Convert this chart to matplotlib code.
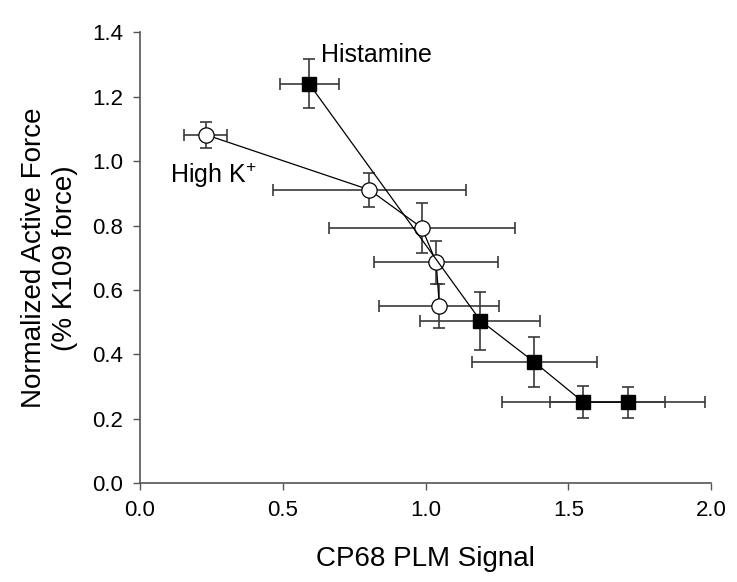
import numpy as np
import matplotlib.pyplot as plt

plt.rcParams['font.family'] = ['Liberation Sans', 'DejaVu Sans']
plt.rcParams['mathtext.fontset'] = 'custom'
plt.rcParams['mathtext.rm'] = 'Liberation Sans'

# Histamine series (filled squares)
hist_x = [0.592, 1.192, 1.381, 1.552, 1.707]
hist_y = [1.240, 0.505, 0.376, 0.252, 0.252]
hist_xerr = [0.103, 0.210, 0.220, 0.285, 0.270]
hist_yerr = [0.076, 0.090, 0.077, 0.050, 0.048]

# High K+ series (open circles)
hk_x = [0.230, 0.803, 0.987, 1.037, 1.048]
hk_y = [1.082, 0.911, 0.793, 0.686, 0.551]
hk_xerr = [0.076, 0.338, 0.326, 0.216, 0.210]
hk_yerr = [0.040, 0.052, 0.077, 0.066, 0.069]

fig = plt.figure(figsize=(7.37, 5.82), dpi=100)
ax = fig.add_axes([0.19, 0.1696, 0.775, 0.775])

ebar_color = '#3a3a3a'

# error bars first, markers on top
ax.errorbar(hk_x, hk_y, xerr=hk_xerr, yerr=hk_yerr, fmt='none',
            ecolor=ebar_color, elinewidth=1.2, capsize=4.5, capthick=1.2, zorder=2)
ax.errorbar(hist_x, hist_y, xerr=hist_xerr, yerr=hist_yerr, fmt='none',
            ecolor=ebar_color, elinewidth=1.2, capsize=4.5, capthick=1.2, zorder=2)

ax.plot(hk_x, hk_y, '-', color='black', lw=0.9, zorder=3,
        marker='o', markersize=11, markerfacecolor='white',
        markeredgecolor='black', markeredgewidth=0.9)
ax.plot(hist_x, hist_y, '-', color='black', lw=0.9, zorder=4,
        marker='s', markersize=9.5, markerfacecolor='black',
        markeredgecolor='black')

ax.text(0.634, 1.33, 'Histamine', fontsize=18, va='center', ha='left')
ax.text(0.105, 0.957, r'High K$^{\mathregular{+}}$', fontsize=18, va='center', ha='left')

ax.set_xlim(0, 2.0)
ax.set_ylim(0, 1.4)
ax.set_xticks(np.arange(0, 2.01, 0.5))
ax.set_yticks(np.arange(0, 1.41, 0.2))
ax.set_xticklabels([f'{v:.1f}' for v in np.arange(0, 2.01, 0.5)])
ax.set_yticklabels([f'{v:.1f}' for v in np.arange(0, 1.41, 0.2)])

for s in ['top', 'right']:
    ax.spines[s].set_visible(False)
for s in ['left', 'bottom']:
    ax.spines[s].set_color('#555555')
    ax.spines[s].set_linewidth(1.2)
ax.tick_params(direction='out', length=5, width=1, color='#555555',
               labelsize=16, pad=7)

ax.set_xlabel('CP68 PLM Signal', fontsize=20, labelpad=18)
ax.set_ylabel('Normalized Active Force\n(% K109 force)', fontsize=20,
              labelpad=10, linespacing=1.25)

fig.savefig('out.png', dpi=100)
